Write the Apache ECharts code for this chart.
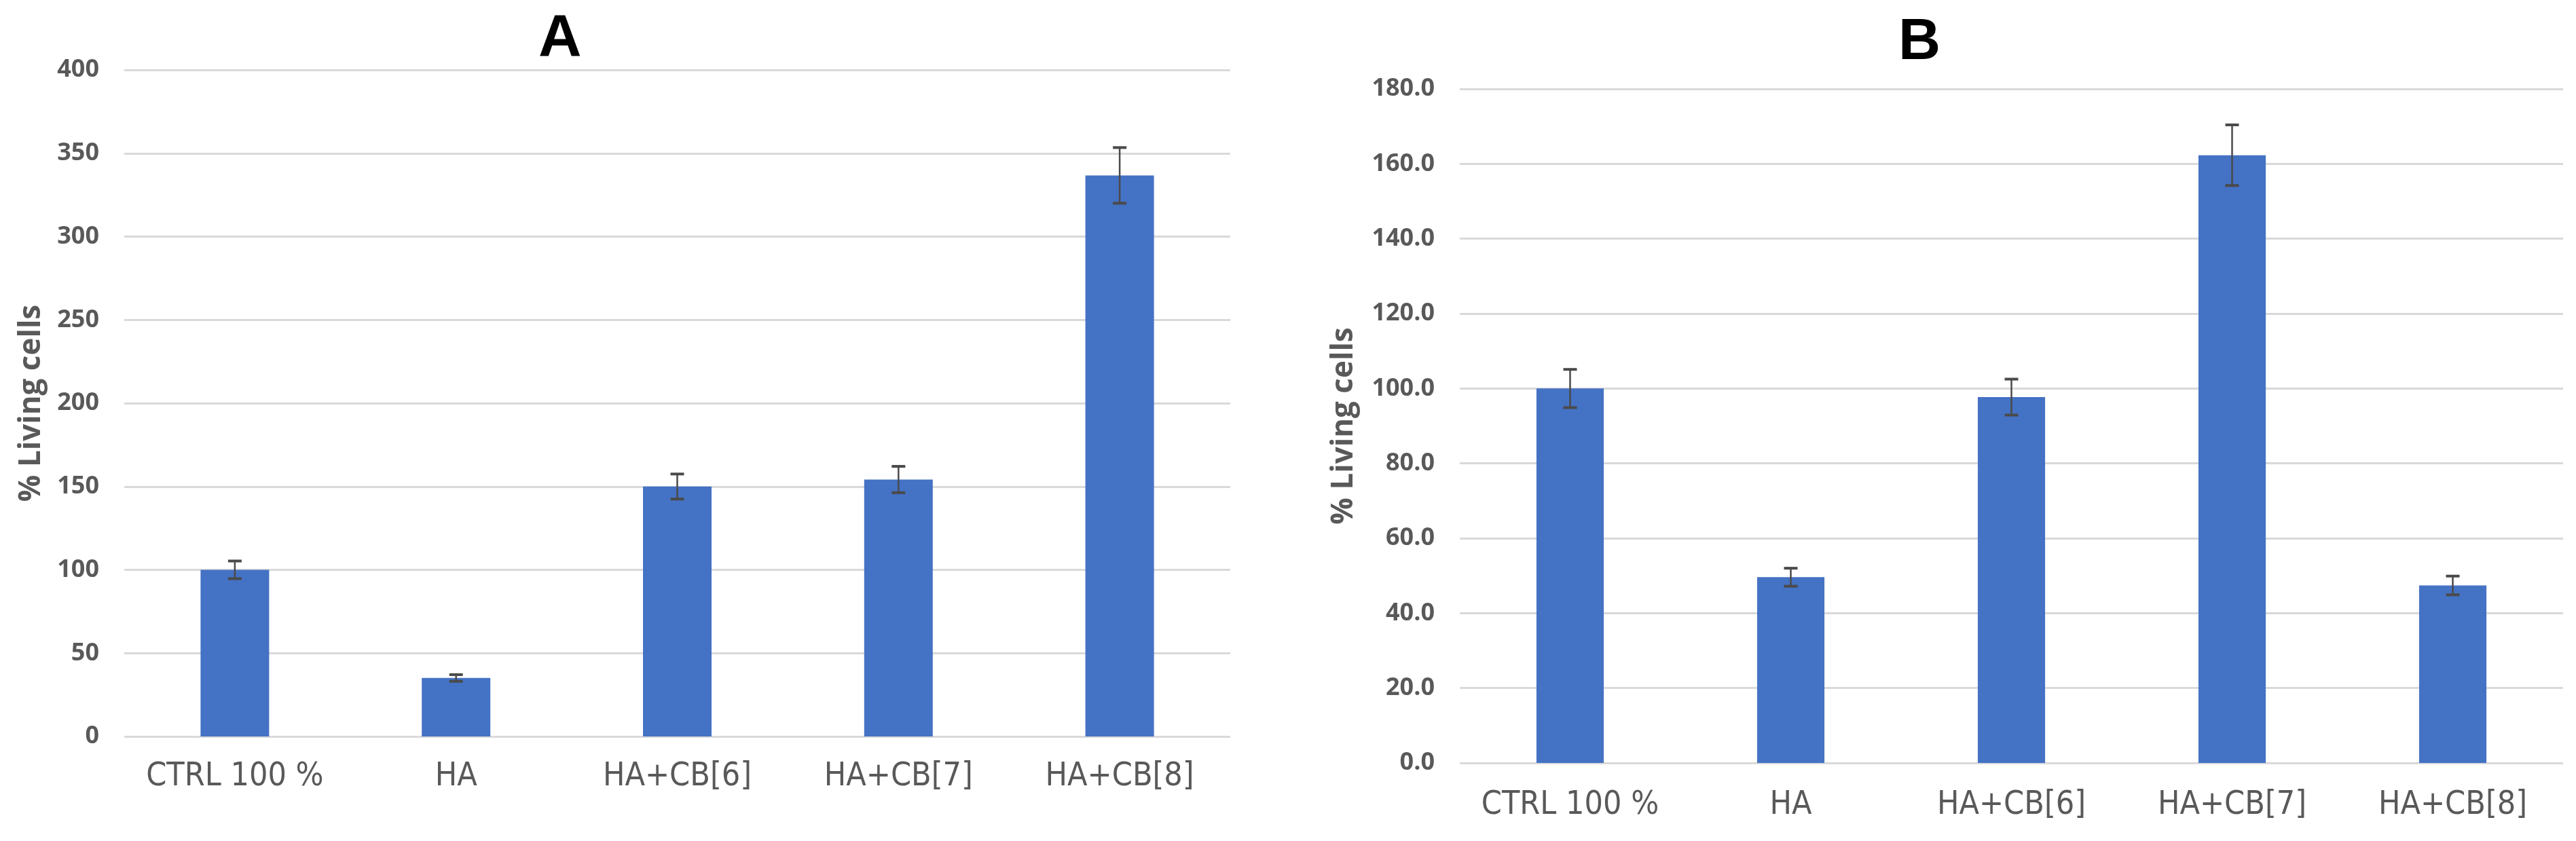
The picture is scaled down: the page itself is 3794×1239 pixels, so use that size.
<!DOCTYPE html>
<html>
<head>
<meta charset="utf-8">
<script src="https://cdn.jsdelivr.net/npm/echarts@6/dist/echarts.min.js"></script>
<style>
html,body{margin:0;padding:0;background:#fff;}
#c{width:3794px;height:1239px;}
</style>
</head>
<body>
<div id="c"></div>
<script>
// ---- data ----
const categories = ['CTRL 100 %', 'HA', 'HA+CB[6]', 'HA+CB[7]', 'HA+CB[8]'];
const valuesA = [100, 35.1, 150.0, 154.2, 336.7];
const errorsA = [5.3, 2.0, 7.5, 7.9, 16.7];
const valuesB = [100.0, 49.6, 97.7, 162.3, 47.4];
const errorsB = [5.1, 2.4, 4.8, 8.1, 2.5];
const titleA = 'A';
const titleB = 'B';
const yNameA = '% Living cells';
const yNameB = '% Living cells';
const yMaxA = 400, yStepA = 50;
const yMaxB = 180, yStepB = 20;

// ---- styles ----
const barColor = '#4472C4';
const textGray = '#595959';
const gridGray = '#d9d9d9';
const errColor = '#4a4a4a';
const catFont = '"Liberation Sans Narrow", "DejaVu Sans Condensed", "Roboto", sans-serif';
const tickFont = '"Open Sans", "Liberation Sans", sans-serif';

function errData(vals, errs) {
  return vals.map((v, i) => [i, v - errs[i], v + errs[i]]);
}
function renderErr(params, api) {
  const i = api.value(0);
  const lo = api.coord([i, api.value(1)]);
  const hi = api.coord([i, api.value(2)]);
  const hw = 10;
  const st = { stroke: errColor, lineWidth: 2.5 };
  return {
    type: 'group',
    children: [
      { type: 'line', shape: { x1: hi[0], y1: hi[1], x2: lo[0], y2: lo[1] }, style: st },
      { type: 'line', shape: { x1: hi[0] - hw, y1: hi[1], x2: hi[0] + hw, y2: hi[1] }, style: { stroke: errColor, lineWidth: 4 } },
      { type: 'line', shape: { x1: lo[0] - hw, y1: lo[1], x2: lo[0] + hw, y2: lo[1] }, style: { stroke: errColor, lineWidth: 4 } }
    ]
  };
}

function xAxisCfg(gi, margin) {
  return {
    type: 'category', gridIndex: gi, data: categories,
    axisLine: { show: false }, axisTick: { show: false },
    axisLabel: { color: textGray, fontFamily: catFont, fontSize: 48, margin: margin, interval: 0 }
  };
}
function yAxisCfg(gi, max, step, decimals, name, gap) {
  return {
    type: 'value', gridIndex: gi, min: 0, max: max, interval: step,
    name: name, nameLocation: 'middle', nameRotate: 90, nameGap: gap,
    nameTextStyle: {
      color: textGray, fontFamily: 'Open Sans', fontWeight: 'bold', fontSize: 44,
      verticalAlign: 'middle', align: 'center'
    },
    axisLine: { show: false }, axisTick: { show: false },
    axisLabel: {
      color: textGray, fontFamily: tickFont, fontWeight: 'bold', fontSize: 36, margin: 37,
      formatter: v => v.toFixed(decimals)
    },
    splitLine: { lineStyle: { color: gridGray, width: 3 } }
  };
}

const chart = echarts.init(document.getElementById('c'), null, { renderer: 'canvas' });
chart.setOption({
  animation: false,
  backgroundColor: '#ffffff',
  grid: [
    { left: 183, right: 3794 - 1812, top: 103, bottom: 1239 - 1085 },
    { left: 2150, right: 3794 - 3775, top: 131, bottom: 1239 - 1124 }
  ],
  xAxis: [xAxisCfg(0, 36), xAxisCfg(1, 39)],
  yAxis: [
    yAxisCfg(0, yMaxA, yStepA, 0, yNameA, 183 - 46),
    yAxisCfg(1, yMaxB, yStepB, 1, yNameB, 2150 - 1979)
  ],
  graphic: [
    { type: 'text', left: 823 - 30, top: 14, style: { text: titleA, fontSize: 88, fontWeight: 'bold', fontFamily: 'Liberation Sans', fill: '#000' } },
    { type: 'text', left: 2826 - 30, top: 20, style: { text: titleB, fontSize: 86, fontWeight: 'bold', fontFamily: 'Liberation Sans', fill: '#000' } }
  ],
  series: [
    { type: 'bar', xAxisIndex: 0, yAxisIndex: 0, data: valuesA, barWidth: '31%', itemStyle: { color: barColor } },
    { type: 'custom', xAxisIndex: 0, yAxisIndex: 0, data: errData(valuesA, errorsA), renderItem: renderErr, z: 5 },
    { type: 'bar', xAxisIndex: 1, yAxisIndex: 1, data: valuesB, barWidth: '30.5%', itemStyle: { color: barColor } },
    { type: 'custom', xAxisIndex: 1, yAxisIndex: 1, data: errData(valuesB, errorsB), renderItem: renderErr, z: 5 }
  ]
});
</script>
</body>
</html>
